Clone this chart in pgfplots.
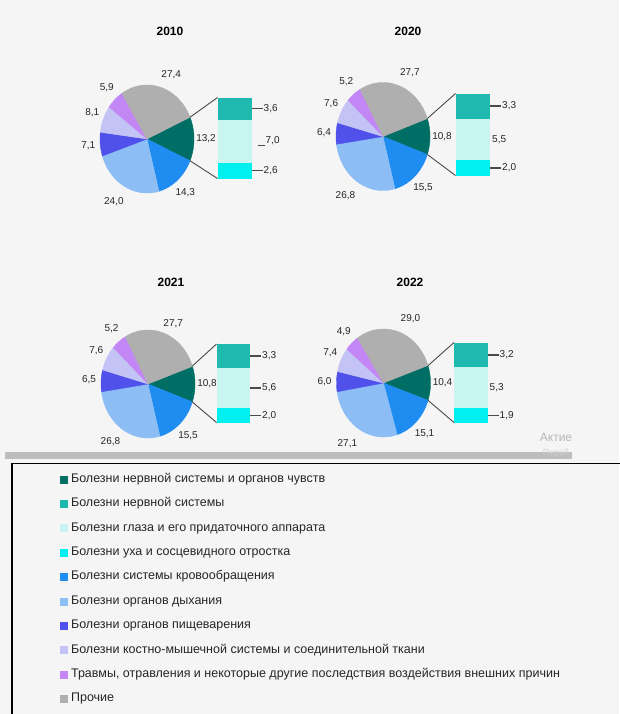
\documentclass[border=0pt]{standalone}
\usepackage{pgfplots}
\pgfplotsset{compat=1.18}
\usepackage{fontspec}
\setmainfont{Liberation Sans}
\pgfkeys{/pgf/number format/.cd, assume math mode=true}
\definecolor{cDTeal}{HTML}{006E64}
\definecolor{cTeal}{HTML}{20B9AF}
\definecolor{cPale}{HTML}{C8F5F0}
\definecolor{cCyan}{HTML}{00F0F0}
\definecolor{cBlue}{HTML}{1E8CF0}
\definecolor{cLBlue}{HTML}{8CBEF5}
\definecolor{cIndigo}{HTML}{5050EB}
\definecolor{cLav}{HTML}{C3C3F5}
\definecolor{cPurple}{HTML}{C387F5}
\definecolor{cGray}{HTML}{AFAFAF}
\definecolor{bgc}{HTML}{F5F5F5}
\definecolor{labc}{HTML}{262626}
\definecolor{connc}{HTML}{4A4A4A}
\newcommand\rx{47}
\newcommand\ry{54}
\newcommand\pielabfont{\fontsize{10}{12}\selectfont}
\newcommand\titfont{\bfseries\fontsize{12}{14}\selectfont}
% pie: #1 cx, #2 cy, #3 start angle, #4 list value/colour/label dx/label dy
\newcommand\drawpie[4]{%
  \xdef\cumang{#3}%
  \foreach \v/\c/\dx/\dy in {#4} {%
    \pgfmathsetmacro\angA{\cumang}%
    \pgfmathsetmacro\angB{\cumang-3.6*\v}%
    \pgfmathsetmacro\angM{(\angA+\angB)/2}%
    \pgfmathsetmacro\lx{#1+(\rx+12)*cos(\angM)+\dx}%
    \pgfmathsetmacro\ly{#2-(\ry+16)*sin(\angM)+\dy}%
    \edef\tmp{%
      \noexpand\addplot[forget plot, fill=\c, draw=\c, line width=0.4pt, domain=\angB:\angA, samples=60, variable=\noexpand\t]
        ({#1+\rx*cos(\noexpand\t)}, {#2-\ry*sin(\noexpand\t)}) -- (axis cs:#1,#2) -- cycle;
      \noexpand\node[font=\noexpand\pielabfont, text=labc] at (axis cs:\lx,\ly)
        {\noexpand\pgfmathprintnumber[fixed,fixed zerofill,precision=1,use comma]{\v}};%
    }%
    \tmp
    \xdef\cumang{\angB}%
  }%
}
% bar: #1 x0, #2 x1, #3 top, #4 bottom, #5 list value/colour/leader style
\newcommand\drawbar[5]{%
  \xdef\tot{0}%
  \foreach \v/\c/\st in {#5} {\pgfmathsetmacro\tmptot{\tot+\v}\xdef\tot{\tmptot}}%
  \xdef\cury{#3}%
  \foreach \v/\c/\st in {#5} {%
    \pgfmathsetmacro\ya{\cury}%
    \pgfmathsetmacro\yb{\cury+(#4-#3)*\v/\tot}%
    \pgfmathsetmacro\ym{(\ya+\yb)/2}%
    \pgfmathsetmacro\xlb{#2+11}%
    \pgfmathsetmacro\xna{#2+1}%
    \pgfmathsetmacro\xta{#2+6}%
    \pgfmathsetmacro\xtb{#2+13}%
    \pgfmathsetmacro\ymt{\ym+4}%
    \edef\tmp{%
      \noexpand\addplot[forget plot, fill=\c, draw=none] coordinates {(#1,\ya) (#2,\ya) (#2,\yb) (#1,\yb)} -- cycle;%
    }\tmp
    \ifcase\st
      \edef\tmpb{\noexpand\node[anchor=west, inner sep=1pt, font=\noexpand\pielabfont, text=labc] at (axis cs:\xna,\ym)
        {\noexpand\pgfmathprintnumber[fixed,fixed zerofill,precision=1,use comma]{\v}};}%
    \or
      \edef\tmpb{\noexpand\addplot[forget plot, line width=1.4pt, connc] coordinates {(#2,\ym) (\xlb,\ym)};
        \noexpand\node[anchor=west, inner sep=1pt, font=\noexpand\pielabfont, text=labc] at (axis cs:\xlb,\ym)
        {\noexpand\pgfmathprintnumber[fixed,fixed zerofill,precision=1,use comma]{\v}};}%
    \or
      \edef\tmpb{\noexpand\addplot[forget plot, line width=0.6pt, connc] coordinates {(\xta,\ymt) (\xtb,\ymt)};
        \noexpand\node[anchor=west, inner sep=1pt, font=\noexpand\pielabfont, text=labc] at (axis cs:\xtb,\ym)
        {\noexpand\pgfmathprintnumber[fixed,fixed zerofill,precision=1,use comma]{\v}};}%
    \fi
    \tmpb
    \xdef\cury{\yb}%
  }%
}
% connectors: #1 cx, #2 cy, #3 half angle, #4 x0, #5 top, #6 bottom
\newcommand\drawconn[6]{%
  \pgfmathsetmacro\pxa{#1+\rx*cos(#3)}%
  \pgfmathsetmacro\pya{#2-\ry*sin(#3)}%
  \pgfmathsetmacro\pyb{#2+\ry*sin(#3)}%
  \edef\tmp{%
    \noexpand\addplot[forget plot, connc, line width=0.9pt] coordinates {(\pxa,\pya) (#4,#5)};
    \noexpand\addplot[forget plot, connc, line width=0.9pt] coordinates {(\pxa,\pyb) (#4,#6)};
  }\tmp
}
\newcommand\legsq[2]{\addlegendimage{legend image code/.code={\fill[#1] (0pt,-3.5pt) rectangle (7pt,3.5pt);}}\addlegendentry{#2}}
\begin{document}
\begin{tikzpicture}
\fill[bgc] (0,0) rectangle (619pt,-714pt);
\begin{axis}[
  x=1pt, y=1pt, y dir=reverse,
  xmin=0, xmax=619, ymin=0, ymax=714,
  anchor=north west, at={(0,0)},
  hide axis, clip=false,
  legend cell align=left,
  legend style={at={(axis cs:60,473)}, anchor=north west, draw=none, fill=none,
    font=\fontsize{12.5}{15}\selectfont, text=labc, row sep=12.4pt, inner sep=0pt,
    nodes={inner xsep=3.5pt, inner ysep=0pt, text height=9pt, text depth=3pt}},
]
% ---- legend frame, scrollbar, watermark
\draw[black, line width=1.3pt] (axis cs:12,463.5) rectangle (axis cs:640,740);
\fill[white!74!black] (axis cs:5,452) rectangle (axis cs:572,459);
\node[font=\fontsize{12}{14}\selectfont, text=black!28] at (axis cs:556,437) {Актие};
\node[font=\fontsize{9}{11}\selectfont, text=black!18] at (axis cs:556,453) {Перей};
% ---- titles
\node[font=\titfont] at (axis cs:170,31) {2010};
\node[font=\titfont] at (axis cs:408,31) {2020};
\node[font=\titfont] at (axis cs:171,282) {2021};
\node[font=\titfont] at (axis cs:410,282) {2022};
% ---- 2010
\drawpie{147}{139}{23.76}{13.2/cDTeal/0/0, 14.3/cBlue/0/0, 24.0/cLBlue/-5/1, 7.1/cIndigo/0/0, 8.1/cLav/0/0, 5.9/cPurple/0/0, 27.4/cGray/7/3}
\drawconn{147}{139}{23.76}{217.5}{97.5}{178.5}
\drawbar{217.5}{251.5}{97.5}{178.5}{3.6/cTeal/1, 7.0/cPale/2, 2.6/cCyan/1}
% ---- 2020
\drawpie{383}{136.5}{19.44}{10.8/cDTeal/0/0, 15.5/cBlue/0/0, 26.8/cLBlue/-5/1, 6.4/cIndigo/0/0, 7.6/cLav/0/0, 5.2/cPurple/0/0, 27.7/cGray/6/2}
\drawconn{383}{136.5}{19.44}{455.5}{93.5}{175.5}
\drawbar{455.5}{490}{93.5}{175.5}{3.3/cTeal/1, 5.5/cPale/0, 2.0/cCyan/1}
% ---- 2021
\drawpie{148}{384}{19.44}{10.8/cDTeal/0/0, 15.5/cBlue/0/0, 26.8/cLBlue/-5/-1, 6.5/cIndigo/0/0, 7.6/cLav/0/0, 5.2/cPurple/0/0, 27.7/cGray/4/5}
\drawconn{148}{384}{19.44}{216.5}{344}{422.5}
\drawbar{216.5}{250}{344}{422.5}{3.3/cTeal/1, 5.6/cPale/1, 2.0/cCyan/1}
% ---- 2022
\drawpie{383.5}{383}{18.72}{10.4/cDTeal/0/0, 15.1/cBlue/0/0, 27.1/cLBlue/-5/1, 6.0/cIndigo/0/0, 7.4/cLav/0/0, 4.9/cPurple/0/0, 29.0/cGray/8/2}
\drawconn{383.5}{383}{18.72}{454}{342.5}{422.5}
\drawbar{454}{487.5}{342.5}{422.5}{3.2/cTeal/1, 5.3/cPale/0, 1.9/cCyan/1}
% ---- legend
\legsq{cDTeal}{Болезни нервной системы и органов чувств}
\legsq{cTeal}{Болезни нервной системы}
\legsq{cPale}{Болезни глаза и его придаточного аппарата}
\legsq{cCyan}{Болезни уха и сосцевидного отростка}
\legsq{cBlue}{Болезни системы кровообращения}
\legsq{cLBlue}{Болезни органов дыхания}
\legsq{cIndigo}{Болезни органов пищеварения}
\legsq{cLav}{Болезни костно-мышечной системы и соединительной ткани}
\legsq{cPurple}{Травмы, отравления и некоторые другие последствия воздействия внешних причин}
\legsq{cGray}{Прочие}
\end{axis}
\pgfresetboundingbox
\useasboundingbox (0,0) rectangle (619pt,-714pt);
\end{tikzpicture}
\end{document}
